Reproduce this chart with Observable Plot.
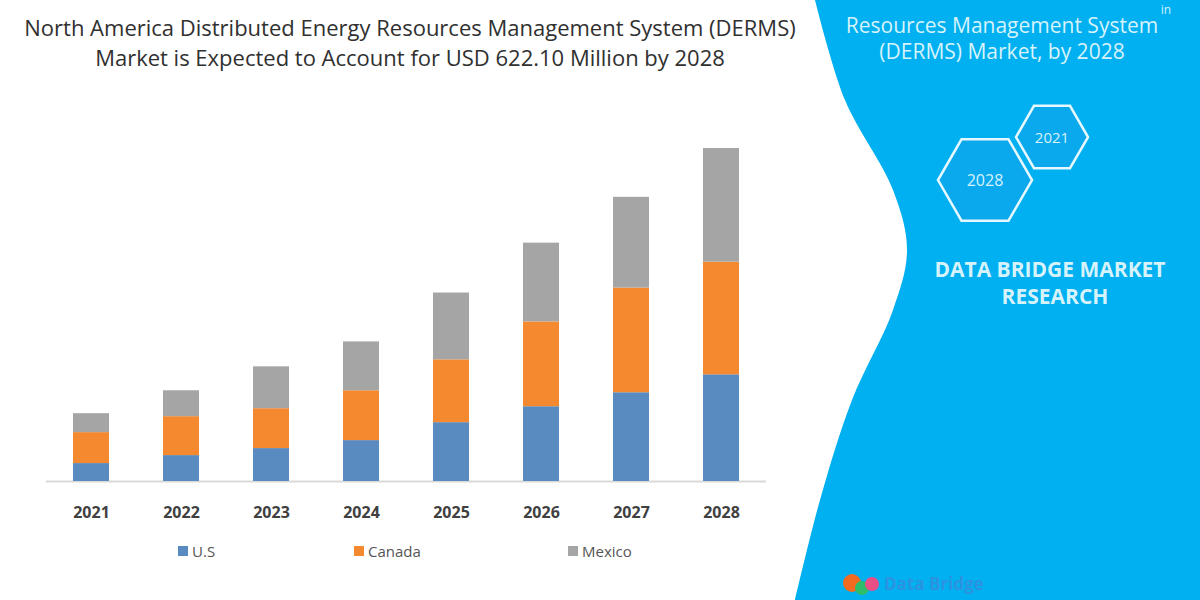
<!DOCTYPE html>
<html><head><meta charset="utf-8">
<script src="https://cdn.jsdelivr.net/npm/d3@7"></script>
<script src="https://cdn.jsdelivr.net/npm/@observablehq/plot@0.6"></script>
<style>
body{margin:0;background:#fff;}
#wrap{position:relative;width:1200px;height:600px;overflow:hidden;font-family:"Open Sans",sans-serif;}
#title{position:absolute;left:0;width:820px;top:12px;text-align:center;font-size:22px;line-height:30px;color:#303030;z-index:2;}
#chart{position:absolute;left:0;top:0;}
#panel{position:absolute;left:0;top:0;z-index:3;}
.lg{position:absolute;top:541px;font-size:15px;color:#555;display:flex;align-items:center;z-index:2;}
.lg span.sw{display:inline-block;width:10px;height:10px;margin-right:4px;}
</style></head>
<body>
<div id="wrap">
  <div id="title">North America Distributed Energy Resources Management System (DERMS)<br>Market is Expected to Account for USD 622.10 Million by 2028</div>
  <div id="chart"></div>
  <div id="legend"></div>
  <svg id="panel" width="1200" height="600"></svg>
</div>
<script>
const years = ["2021","2022","2023","2024","2025","2026","2027","2028"];
const series = ["U.S","Canada","Mexico"];
const colors = ["#5a8bc0","#f5892f","#a5a5a5"];
const usValues = [33.5,48.4,61.5,76.4,109.9,139.7,165.8,199.3];
const canadaValues = [57.8,72.7,74.5,93.1,117.4,158.4,195.6,210.5];
const mexicoValues = [35.4,48.4,78.2,91.3,124.8,147.2,169.5,212.3];
const legendLeft = [178,354,568];

const valuesBySeries = [usValues, canadaValues, mexicoValues];
const data = [];
series.forEach((s, i) => years.forEach((y, j) => data.push({year: y, series: s, value: valuesBySeries[i][j]})));

const plot = Plot.plot({
  width: 1200, height: 600,
  marginTop: 148, marginBottom: 119, marginLeft: 46, marginRight: 434,
  style: {background: "transparent", fontFamily: "Open Sans, sans-serif"},
  x: {domain: years, paddingInner: 0.6, paddingOuter: 0.3, axis: null, label: null},
  y: {domain: [0, 622.1], axis: null},
  color: {domain: series, range: colors},
  marks: [
    Plot.ruleY([0], {stroke: "#d9d9d9", strokeWidth: 2}),
    Plot.barY(data, {x: "year", y: "value", fill: "series"}),
    Plot.axisX({tickSize: 0, tickPadding: 25, fontSize: 16, fontWeight: "bold", fill: "#404040", label: null})
  ]
});
document.getElementById("chart").appendChild(plot);

const lg = document.getElementById("legend");
series.forEach((s, i) => {
  const d = document.createElement("div");
  d.className = "lg";
  d.style.left = legendLeft[i] + "px";
  d.innerHTML = `<span class="sw" style="background:${colors[i]}"></span>${s}`;
  lg.appendChild(d);
});

// decorative right-hand panel
const svg = d3.select("#panel");
const edge = [[815,0],[845,100],[893,190],[907,250],[893,310],[852,400],[820,500],[795,600]];
const edgePath = d3.line().curve(d3.curveCatmullRom)(edge);
svg.append("path").attr("d", edgePath + "L1200,600L1200,0Z").attr("fill", "#00b0f0");
const tc = "#d6f3fc";
const txt = (x, y, s, size, weight) => svg.append("text").attr("x", x).attr("y", y)
  .attr("text-anchor", "middle").attr("fill", tc).attr("font-family", "Open Sans, sans-serif")
  .attr("font-size", size).attr("font-weight", weight || "normal").text(s);
svg.append("text").attr("x", 1166).attr("y", 14).attr("text-anchor", "middle").attr("fill", tc)
  .attr("font-family", "Open Sans, sans-serif").attr("font-size", 12).text("in");
txt(1002, 33, "Resources Management System", 21);
txt(1002, 59, "(DERMS) Market, by 2028", 21);
const hex = (cx, cy, r) => d3.range(6).map(k => [cx + r*Math.cos(k*Math.PI/3), cy + r*Math.sin(k*Math.PI/3)]);
[[1052,137,36,"2021",15],[985,180,47,"2028",16]].forEach(([cx,cy,r,label,fs]) => {
  svg.append("path").attr("d", d3.line()(hex(cx,cy,r)) + "Z").attr("fill", "#1e9be8").attr("fill-opacity", 0.35)
    .attr("stroke", "#e6f8ff").attr("stroke-width", 2.5);
  txt(cx, cy + 6, label, fs);
});
txt(1050, 277, "DATA BRIDGE MARKET", 21, "bold");
txt(1055, 304, "RESEARCH", 21, "bold");
svg.append("circle").attr("cx", 852).attr("cy", 583).attr("r", 9).attr("fill", "#f26b21");
svg.append("circle").attr("cx", 862).attr("cy", 588).attr("r", 7).attr("fill", "#2ebd6b");
svg.append("circle").attr("cx", 872).attr("cy", 584).attr("r", 7).attr("fill", "#ea4f86");
svg.append("text").attr("x", 884).attr("y", 590).attr("fill", "#2b93e0").attr("font-family", "Open Sans, sans-serif")
  .attr("font-size", 17).attr("font-weight", "bold").text("Data Bridge");
</script>
</body></html>
